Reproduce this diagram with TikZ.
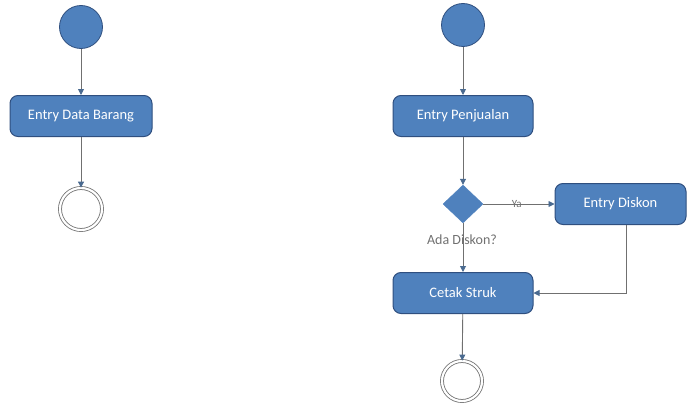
\documentclass[tikz,border=0pt]{standalone}
\usepackage{fontspec}
\setmainfont{Carlito}
\usetikzlibrary{shapes.geometric,arrows.meta}
\definecolor{boxfill}{HTML}{4F81BD}
\definecolor{boxline}{HTML}{2F4F7F}
\definecolor{linegray}{HTML}{707070}
\definecolor{tipblue}{HTML}{4A6A90}
\tikzset{
  startnode/.style={circle, fill=boxfill, draw=boxline, line width=0.8pt, minimum size=43pt, inner sep=0pt},
  endnode/.style={circle, fill=white, draw=linegray, line width=0.8pt, minimum size=42pt, inner sep=0pt,
    double=white, double distance=2.2pt},
  actbox/.style={rectangle, rounded corners=8pt, fill=boxfill, draw=boxline, line width=1pt,
    minimum height=41pt, text=white, font=\fontsize{14.5}{16}\selectfont, inner sep=0pt},
  decnode/.style={diamond, fill=boxfill, draw=boxfill, minimum width=40pt, minimum height=38pt, inner sep=0pt},
  flow/.style={draw=linegray, line width=0.9pt, -{Triangle[length=6pt,width=6pt,fill=tipblue,color=tipblue]}},
  lbl/.style={text=linegray, font=\fontsize{14}{16}\selectfont}
}
\begin{document}
\begin{tikzpicture}[x=1pt,y=-1pt]
\useasboundingbox (0,0) rectangle (688,404);
% left diagram
\node[startnode] (s1) at (81,27) {};
\node[actbox, minimum width=142pt] (edb) at (81,116) {Entry Data Barang};
\node[endnode] (e1) at (81,209) {};
\draw[flow] (s1) -- (edb);
\draw[flow] (edb) -- (e1);
% right diagram
\node[startnode] (s2) at (463,25) {};
\node[actbox, minimum width=140pt] (ep) at (463,116) {Entry Penjualan};
\node[decnode] (d) at (463,204) {};
\node[actbox, minimum width=131pt] (ed) at (620.5,204) {Entry Diskon};
\node[actbox, minimum width=140pt] (cs) at (463,293) {Cetak Struk};
\node[endnode, minimum size=40pt] (e2) at (462,381) {};
\node[lbl] (ada) at (462,240) {Ada Diskon?};
\coordinate (corner) at (626,293);
\draw[flow] (s2) -- (ep);
\draw[flow] (ep) -- (d);
\draw[flow] (d) -- node[lbl, font=\fontsize{11}{12}\selectfont, pos=0.47] {Ya} (ed);
\draw[flow] (d) -- (cs);
\draw[flow] (ed.south -| corner) -- (corner) -- (cs.east);
\draw[flow] (cs) -- (e2);
\end{tikzpicture}
\end{document}
